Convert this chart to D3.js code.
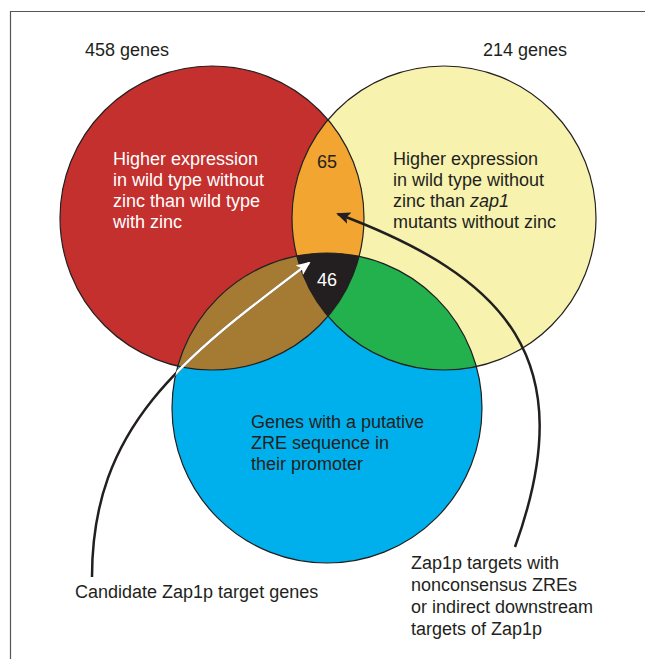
<!DOCTYPE html>
<html><head><meta charset="utf-8">
<script src="https://cdn.jsdelivr.net/npm/d3@7"></script>
<style>body{margin:0;background:#fff}svg{display:block}text{font-family:"Liberation Sans",Arial,sans-serif}</style>
</head><body><svg id="c" width="645" height="659"></svg>
<script>
// ---- data ----
const setNames = ["Higher expression in wild type without zinc than wild type with zinc",
  "Higher expression in wild type without zinc than zap1 mutants without zinc",
  "Genes with a putative ZRE sequence in their promoter"];
const setCounts = [458, 214];
const overlapLabels = ["65", "46"];
const redLines = ["Higher expression", "in wild type without", "zinc than wild type", "with zinc"];
const blueLines = ["Genes with a putative", "ZRE sequence in", "their promoter"];
const leftNote = ["Candidate Zap1p target genes"];
const rightNote = ["Zap1p targets with", "nonconsensus ZREs", "or indirect downstream", "targets of Zap1p"];

const svg = d3.select("#c");
const ink = "#231f20";
const C = {
  red: {x: 212, y: 218, r: 152, fill: "#c4302d"},
  yel: {x: 444, y: 218, r: 152, fill: "#f7f2ae"},
  blu: {x: 327, y: 408, r: 155, fill: "#00b0ec"}
};
const defs = svg.append("defs");
Object.entries(C).forEach(([k, c]) => {
  defs.append("clipPath").attr("id", "clip-" + k).append("circle").attr("cx", c.x).attr("cy", c.y).attr("r", c.r);
});
const uni = defs.append("clipPath").attr("id", "clip-all");
Object.values(C).forEach(c => uni.append("circle").attr("cx", c.x).attr("cy", c.y).attr("r", c.r));

function mk(id, color) {
  defs.append("marker").attr("id", id).attr("viewBox", "0 -6 14 12").attr("refX", 12).attr("refY", 0)
    .attr("markerWidth", 14).attr("markerHeight", 12).attr("markerUnits", "userSpaceOnUse").attr("orient", "auto")
    .append("path").attr("d", "M0,-6L14,0L0,6L3,0Z").attr("fill", color);
}
mk("ah-white", "#fff"); mk("ah-black", ink);

// frame
svg.append("path").attr("d", "M10.5,659 V11.5 H645").attr("fill", "none").attr("stroke", "#555").attr("stroke-width", 1.2);

const circ = (g, c, fill) => g.append("circle").attr("cx", c.x).attr("cy", c.y).attr("r", c.r).attr("fill", fill);
circ(svg, C.red, C.red.fill);
circ(svg, C.yel, C.yel.fill);
circ(svg, C.blu, C.blu.fill);
circ(svg.append("g").attr("clip-path", "url(#clip-red)"), C.yel, "#f3a531");
circ(svg.append("g").attr("clip-path", "url(#clip-red)"), C.blu, "#a57b33");
circ(svg.append("g").attr("clip-path", "url(#clip-yel)"), C.blu, "#22b14c");
circ(svg.append("g").attr("clip-path", "url(#clip-red)").append("g").attr("clip-path", "url(#clip-yel)"), C.blu, "#231f20");
Object.values(C).forEach(c => svg.append("circle").attr("cx", c.x).attr("cy", c.y).attr("r", c.r)
  .attr("fill", "none").attr("stroke", ink).attr("stroke-width", 1.2));

// curves (annotation leader lines)
function bez(p0, p1, p2, p3) {
  const p = d3.path();
  p.moveTo(...p0); p.bezierCurveTo(...p1, ...p2, ...p3);
  return p.toString();
}
const leftD = bez([92,577], [92,427], [181,359], [309,263]);
svg.append("path").attr("d", leftD).attr("fill", "none").attr("stroke", ink).attr("stroke-width", 2.5);
svg.append("path").attr("d", leftD).attr("fill", "none").attr("stroke", "#fff").attr("stroke-width", 2.5)
  .attr("clip-path", "url(#clip-all)").attr("marker-end", "url(#ah-white)");
svg.append("path").attr("d", bez([515,547], [583,359], [506,277], [338,214])).attr("fill", "none").attr("stroke", ink)
  .attr("stroke-width", 2.5).attr("marker-end", "url(#ah-black)");

const fs = 18;
function block(lines, x, y0, dy, color) {
  const t = svg.append("text").attr("font-size", fs).attr("fill", color);
  lines.forEach((l, i) => t.append("tspan").attr("x", x).attr("y", y0 + i * dy).text(l));
  return t;
}
svg.append("text").attr("x", 85).attr("y", 56).attr("font-size", fs).attr("fill", ink).text(setCounts[0] + " genes");
svg.append("text").attr("x", 483).attr("y", 56).attr("font-size", fs).attr("fill", ink).text(setCounts[1] + " genes");
block(redLines, 113, 165, 21, "#fff");
const yt = svg.append("text").attr("font-size", fs).attr("fill", ink);
yt.append("tspan").attr("x", 393).attr("y", 165).text("Higher expression");
yt.append("tspan").attr("x", 393).attr("y", 186).text("in wild type without");
yt.append("tspan").attr("x", 393).attr("y", 207).text("zinc than ");
yt.append("tspan").attr("font-style", "italic").text("zap1");
yt.append("tspan").attr("x", 393).attr("y", 228).text("mutants without zinc");
svg.append("text").attr("x", 327).attr("y", 168).attr("text-anchor", "middle").attr("font-size", fs).attr("fill", ink).text(overlapLabels[0]);
svg.append("text").attr("x", 327).attr("y", 286).attr("text-anchor", "middle").attr("font-size", fs).attr("fill", "#fff").text(overlapLabels[1]);
block(blueLines, 251, 428, 21, ink);
block(leftNote, 75, 598, 22, ink);
block(rightNote, 411, 569, 22, ink);
</script></body></html>
